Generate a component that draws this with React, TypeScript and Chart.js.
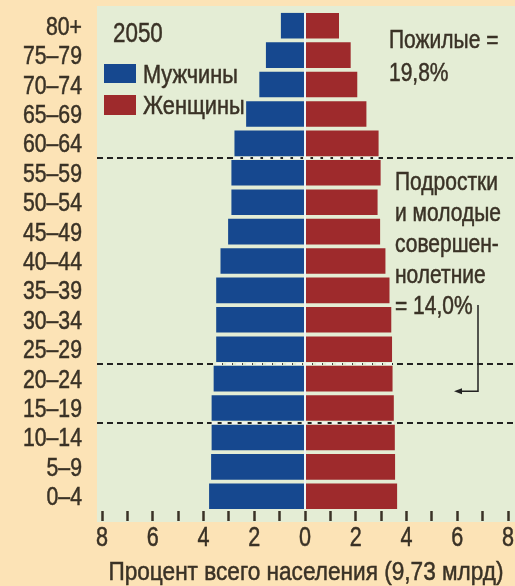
import React, { useEffect, useRef } from "react";
import { Chart, registerables } from "chart.js";

Chart.register(...registerables);

const ageGroups = [
  "80+", "75–79", "70–74", "65–69", "60–64", "55–59", "50–54", "45–49", "40–44",
  "35–39", "30–34", "25–29", "20–24", "15–19", "10–14", "5–9", "0–4",
];
const malePct = [0.95, 1.54, 1.8, 2.32, 2.78, 2.9, 2.9, 3.03, 3.33, 3.5, 3.5, 3.5, 3.6, 3.68, 3.68, 3.7, 3.78];
const femalePct = [1.34, 1.8, 2.06, 2.42, 2.9, 2.98, 2.86, 2.96, 3.17, 3.33, 3.4, 3.43, 3.45, 3.5, 3.54, 3.55, 3.63];
const xTickValues = [-8, -7, -6, -5, -4, -3, -2, -1, 0, 1, 2, 3, 4, 5, 6, 7, 8];
const xTickLabelValues = [-8, -6, -4, -2, 0, 2, 4, 6, 8];
// boundaries (between rows) where dashed separators are drawn
const bandBoundaries = [4.5, 11.5, 13.5];

const YEAR = "2050";
const MALE_LABEL = "Мужчины";
const FEMALE_LABEL = "Женщины";
const ELDER_TEXT = ["Пожилые =", "19,8%"];
const YOUTH_TEXT = ["Подростки", "и молодые", "совершен-", "нолетние", "= 14,0%"];
const X_TITLE = "Процент всего населения (9,73 млрд)";

const FONT = '"Liberation Sans", Arial, sans-serif';
const TEXT = "#3a3226";
const BLUE = "#16488f";
const RED = "#9e2a2c";
const PEACH = "#fce3b6";
const GREEN = "#e4edd5";

function txt(ctx: CanvasRenderingContext2D, s: string, x: number, y: number, size: number, align: CanvasTextAlign = "left", sx = 0.85) {
  ctx.save();
  ctx.font = `${size}px ${FONT}`;
  ctx.textAlign = align;
  ctx.textBaseline = "alphabetic";
  ctx.fillStyle = TEXT;
  ctx.strokeStyle = TEXT;
  ctx.lineWidth = 0.5;
  ctx.translate(x, y);
  ctx.scale(sx, 1);
  ctx.fillText(s, 0, 0);
  ctx.strokeText(s, 0, 0);
  ctx.restore();
}

const decorPlugin = {
  id: "decor",
  beforeDraw(chart: any) {
    const { ctx, width, height } = chart;
    ctx.save();
    ctx.fillStyle = PEACH;
    ctx.fillRect(0, 0, width, height);
    ctx.fillStyle = GREEN;
    ctx.fillRect(97, 6, width - 97, 516);
    ctx.restore();
  },
  beforeDatasetsDraw(chart: any) {
    const { ctx } = chart;
    const y = chart.scales.y;
    ctx.save();
    ctx.strokeStyle = "#222";
    ctx.lineWidth = 2;
    ctx.setLineDash([6, 4]);
    for (const b of bandBoundaries) {
      const py = Math.round(y.getPixelForValue(b));
      ctx.beginPath();
      ctx.moveTo(97, py);
      ctx.lineTo(chart.width, py);
      ctx.stroke();
    }
    ctx.restore();
  },
  afterDatasetsDraw(chart: any) {
    const { ctx } = chart;
    const x = chart.scales.x;
    const y = chart.scales.y;
    const x0 = x.getPixelForValue(0);
    ctx.save();
    const top = y.getPixelForValue(-0.44);
    const bot = y.getPixelForValue(ageGroups.length - 1 + 0.44);
    ctx.strokeStyle = "#eef4f4";
    ctx.lineWidth = 2;
    ctx.beginPath();
    ctx.moveTo(x0, top);
    ctx.lineTo(x0, bot);
    ctx.stroke();
    ctx.strokeStyle = "#f4f6f2";
    ctx.setLineDash([6, 4]);
    for (const b of bandBoundaries) {
      const i = Math.floor(b);
      const left = x.getPixelForValue(-Math.min(malePct[i], malePct[i + 1]));
      const right = x.getPixelForValue(Math.min(femalePct[i], femalePct[i + 1]));
      const py = Math.round(y.getPixelForValue(b));
      ctx.beginPath();
      ctx.moveTo(left, py);
      ctx.lineTo(right, py);
      ctx.stroke();
    }
    ctx.restore();
  },
  afterDraw(chart: any) {
    const { ctx, chartArea } = chart;
    const x = chart.scales.x;
    const y = chart.scales.y;
    ageGroups.forEach((lab, i) => {
      txt(ctx, lab, 82, y.getPixelForValue(i) + 9, 25, "right", 0.85);
    });
    xTickLabelValues.forEach((v) => {
      txt(ctx, String(Math.abs(v)), x.getPixelForValue(v), 546, 27, "center", 0.8);
    });
    txt(ctx, X_TITLE, (chartArea.left + chartArea.right) / 2 + 1, 580, 26, "center", 0.87);
    txt(ctx, YEAR, 113, 42, 28, "left", 0.8);
    ctx.save();
    ctx.fillStyle = BLUE;
    ctx.fillRect(104, 64, 32, 19);
    ctx.fillStyle = RED;
    ctx.fillRect(104, 95, 32, 20);
    ctx.restore();
    txt(ctx, MALE_LABEL, 143, 83, 25, "left", 0.87);
    txt(ctx, FEMALE_LABEL, 143, 114, 25, "left", 0.87);
    ELDER_TEXT.forEach((t, i) => txt(ctx, t, 389, 48 + i * 33, 25, "left", 0.84));
    YOUTH_TEXT.forEach((t, i) => txt(ctx, t, 395, 190 + i * 31, 25, "left", 0.84));
    const arrowY = (y.getPixelForValue(bandBoundaries[1]) + y.getPixelForValue(bandBoundaries[2])) / 2 - 2;
    ctx.save();
    ctx.strokeStyle = "#222";
    ctx.lineWidth = 1.5;
    ctx.beginPath();
    ctx.moveTo(478, 305);
    ctx.lineTo(478, arrowY);
    ctx.lineTo(460, arrowY);
    ctx.stroke();
    ctx.fillStyle = "#222";
    ctx.beginPath();
    ctx.moveTo(454, arrowY);
    ctx.lineTo(462, arrowY - 3);
    ctx.lineTo(462, arrowY + 3);
    ctx.closePath();
    ctx.fill();
    ctx.restore();
  },
};

export default function App() {
  const ref = useRef<HTMLCanvasElement>(null);
  useEffect(() => {
    if (!ref.current) return;
    const chart = new Chart(ref.current, {
      type: "bar",
      data: {
        labels: ageGroups,
        datasets: [
          { label: MALE_LABEL, data: malePct.map((v) => -v), backgroundColor: BLUE, barPercentage: 0.87, categoryPercentage: 1 },
          { label: FEMALE_LABEL, data: femalePct, backgroundColor: RED, barPercentage: 0.87, categoryPercentage: 1 },
        ],
      },
      options: {
        indexAxis: "y",
        responsive: false,
        animation: false,
        devicePixelRatio: 1,
        layout: { padding: { top: 11, right: 7, left: 0, bottom: 0 } },
        plugins: { legend: { display: false }, tooltip: { enabled: false } },
        scales: {
          x: {
            stacked: true,
            min: -8,
            max: 8,
            afterBuildTicks: (scale: any) => {
              scale.ticks = xTickValues.map((v) => ({ value: v }));
            },
            afterFit: (scale: any) => {
              scale.height = 75;
            },
            border: { display: false },
            grid: {
              display: true,
              drawOnChartArea: false,
              drawTicks: true,
              tickLength: 10,
              tickWidth: 2.5,
              tickColor: "#3a3226",
            },
            ticks: { display: false },
            title: { display: false },
          },
          y: {
            stacked: true,
            afterFit: (scale: any) => {
              scale.width = 102;
            },
            border: { display: false },
            grid: { display: false, drawTicks: false },
            ticks: { display: false },
          },
        },
      },
      plugins: [decorPlugin],
    });
    return () => chart.destroy();
  }, []);
  return (
    <div style={{ position: "fixed", left: 0, top: 0, width: 515, height: 586, background: PEACH }}>
      <canvas ref={ref} width={515} height={586} style={{ display: "block", width: 515, height: 586 }} />
    </div>
  );
}
